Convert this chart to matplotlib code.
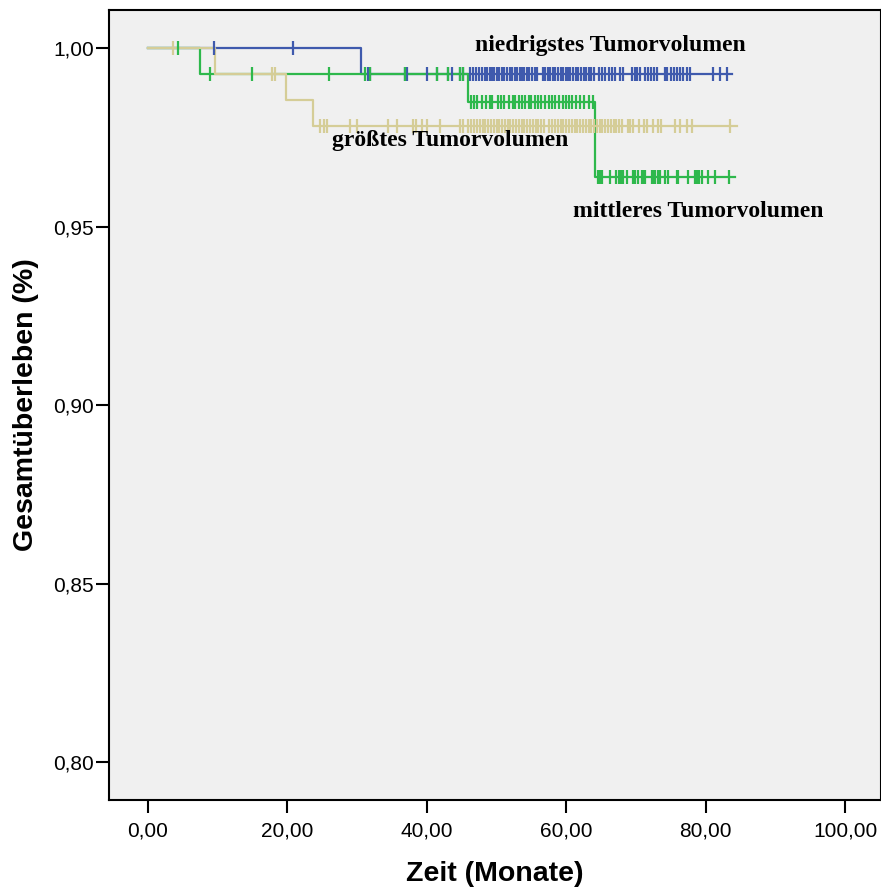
import matplotlib.pyplot as plt

# Kaplan-Meier step curves: event times and survival after each step
low_t = [0, 30.6, 83.8]
low_s = [1.0, 0.9927, 0.9927]
mid_t = [0, 7.5, 45.9, 64.1, 84.2]
mid_s = [1.0, 0.9927, 0.9850, 0.9639, 0.9639]
big_t = [0, 9.6, 19.8, 23.7, 84.5]
big_s = [1.0, 0.9927, 0.9854, 0.9782, 0.9782]

# censored observations
low_cens = [9.5, 20.8, 31.6, 31.9, 36.9, 37.2, 40.0, 41.5, 43.0, 43.6, 44.8, 45.2,
            46.2, 46.6, 47.1, 47.5, 47.9, 48.3, 48.6, 49.0, 49.3, 49.7, 50.1, 50.4,
            50.8, 51.1, 51.5, 51.9, 52.2, 52.6, 52.9, 53.3, 53.6, 54.0, 54.4, 54.7,
            55.1, 55.5, 55.8, 56.6, 57.0, 57.4, 57.7, 58.1, 58.4, 58.8, 59.2, 59.5,
            59.9, 60.3, 60.6, 61.0, 61.4, 61.7, 62.1, 62.5, 62.8, 63.2, 63.6, 64.0,
            64.7, 65.1, 65.5, 66.2, 66.6, 67.0, 67.7, 68.1, 69.4, 69.8, 70.2, 70.6,
            71.3, 71.7, 72.1, 72.6, 73.0, 74.1, 74.5, 75.0, 75.4, 75.9, 76.3, 76.8,
            77.3, 77.8, 81.1, 82.1, 83.1]
mid_cens = [4.3, 8.9, 14.9, 26.0, 31.1, 31.9, 36.9, 41.5, 43.0, 44.8, 45.2,
            46.3, 46.7, 47.2, 47.9, 48.5, 49.0, 49.4, 50.2, 50.6, 51.1, 51.8, 52.3,
            52.7, 53.2, 53.6, 54.1, 54.6, 55.0, 55.5, 56.0, 56.4, 57.0, 57.5, 57.9,
            58.4, 59.0, 59.5, 60.0, 60.4, 60.9, 61.4, 62.0, 62.6, 63.2, 63.8,
            64.6, 64.8, 65.1, 66.3, 67.2, 67.5, 67.7, 67.9, 68.2, 68.7, 69.6, 69.9,
            70.3, 70.8, 71.0, 71.3, 72.3, 72.5, 72.7, 73.2, 73.5, 74.2, 74.6, 75.9,
            76.1, 77.5, 78.5, 78.7, 79.0, 79.5, 80.4, 81.4, 83.3]
big_cens = [3.6, 17.8, 18.2, 24.7, 25.3, 25.7, 29.0, 30.0, 34.4, 35.7, 38.0, 38.5,
            39.3, 40.0, 41.9, 44.8, 45.2, 45.9, 46.4, 46.8, 47.2, 47.6, 48.0, 48.4,
            48.8, 49.2, 49.6, 50.0, 50.4, 50.8, 51.2, 51.6, 52.0, 52.4, 52.8, 53.2,
            53.6, 54.0, 54.4, 54.8, 55.2, 55.6, 56.0, 56.4, 56.8, 57.6, 58.0, 58.4,
            58.8, 59.2, 59.6, 60.0, 60.4, 60.8, 61.2, 61.6, 62.0, 62.4, 62.8, 63.2,
            63.6, 64.0, 64.4, 64.8, 65.2, 65.6, 66.0, 66.4, 66.8, 67.2, 67.6, 68.0,
            68.8, 69.2, 69.6, 70.4, 71.2, 71.6, 72.4, 73.2, 73.6, 75.6, 76.3, 77.3,
            78.0, 83.5]

group_labels = ['niedrigstes Tumorvolumen', 'mittleres Tumorvolumen', 'größtes Tumorvolumen']
xticks = [0, 20, 40, 60, 80, 100]
yticks = [0.80, 0.85, 0.90, 0.95, 1.00]


def surv_at(t_list, s_list, x):
    s = s_list[0]
    for t, v in zip(t_list, s_list):
        if x >= t:
            s = v
    return s


fig = plt.figure(figsize=(8.81, 8.89), dpi=100)
ax = fig.add_axes([0.1237, 0.1001, 0.8763, 0.8886])
ax.set_facecolor('#F0F0F0')

groups = [
    (low_t, low_s, low_cens, '#3F5AAD'),
    (mid_t, mid_s, mid_cens, '#2EB84C'),
    (big_t, big_s, big_cens, '#D5CD97'),
]
for t, s, cens, col in groups:
    ax.step(t, s, where='post', color=col, lw=1.6, zorder=2)
    cy = [surv_at(t, s, c) for c in cens]
    ax.plot(cens, cy, ls='none', marker='|', ms=10, mew=1.6, color=col, zorder=3)

# curve labels placed next to their curves
serif = ['Liberation Serif', 'DejaVu Serif']
label_pos = [(66.3, 1.0006), (78.9, 0.9541), (43.3, 0.9741)]
for txt, (lx, ly) in zip(group_labels, label_pos):
    ax.text(lx, ly, txt, ha='center', va='center', fontsize=17,
            fontweight='bold', family=serif)

ax.set_xlim(-5.6, 105.16)
ax.set_ylim(0.78936, 1.01064)
ax.set_xticks(xticks)
ax.set_xticklabels([('%.2f' % v).replace('.', ',') for v in xticks])
ax.set_yticks(yticks)
ax.set_yticklabels([('%.2f' % v).replace('.', ',') for v in yticks])

sans = ['Liberation Sans', 'DejaVu Sans']
for lab in ax.get_xticklabels() + ax.get_yticklabels():
    lab.set_family(sans)
    lab.set_fontsize(15)
ax.tick_params(direction='out', length=9.5, width=1.5)
ax.tick_params(axis='x', pad=6)
ax.tick_params(axis='y', pad=1.5)

for sp in ax.spines.values():
    sp.set_linewidth(1.5)

ax.set_xlabel('Zeit (Monate)', fontsize=20.5, fontweight='bold', family=sans, labelpad=15)
ax.set_ylabel('Gesamtüberleben (%)', fontsize=20.5, fontweight='bold', family=sans, labelpad=10)

fig.savefig('out.png', dpi=100)
